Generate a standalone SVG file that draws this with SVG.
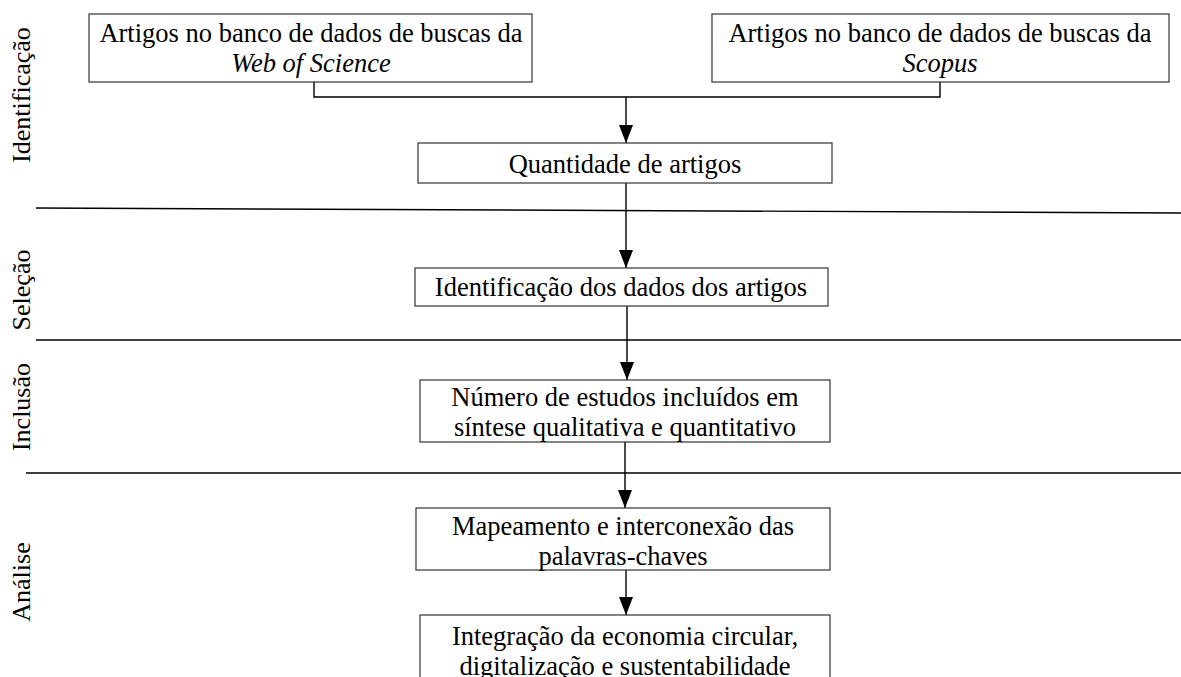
<svg xmlns="http://www.w3.org/2000/svg" width="1181" height="677" viewBox="0 0 1181 677">
<defs>
<style>
text{font-family:"Liberation Serif","Times New Roman",serif;font-size:26.5px;fill:#000;text-anchor:middle}
.box{fill:#fff;stroke:#333;stroke-width:1.2}
.ln{stroke:#000;stroke-width:1.4;fill:none}
.sep{stroke:#000;stroke-width:1.4;fill:none}
.lbl{font-size:26px}
</style>
<marker id="ah" viewBox="0 0 18 16" refX="18" refY="8" markerWidth="18" markerHeight="16" markerUnits="userSpaceOnUse" orient="auto">
<path d="M0,1 L18,8 L0,15 Z" fill="#000"/>
</marker>
</defs>
<rect width="1181" height="677" fill="#fff"/>
<g id="phases">
<line class="sep" x1="36" y1="208" x2="1181" y2="213"/>
<line class="sep" x1="36" y1="340" x2="1181" y2="340"/>
<line class="sep" x1="26" y1="473" x2="1181" y2="473"/>
<text class="lbl" transform="translate(30,95) rotate(-90)">Identificação</text>
<text class="lbl" transform="translate(30,290) rotate(-90)">Seleção</text>
<text class="lbl" transform="translate(30,407) rotate(-90)">Inclusão</text>
<text class="lbl" transform="translate(30,582) rotate(-90)">Análise</text>
</g>
<g id="connectors">
<polyline class="ln" points="314,82 314,97 940,97 940,82"/>
<line class="ln" x1="626" y1="97" x2="626" y2="143" marker-end="url(#ah)"/>
<line class="ln" x1="626" y1="183" x2="626" y2="268" marker-end="url(#ah)"/>
<line class="ln" x1="627" y1="306" x2="627" y2="380" marker-end="url(#ah)"/>
<line class="ln" x1="625" y1="442" x2="625" y2="508" marker-end="url(#ah)"/>
<line class="ln" x1="626" y1="570" x2="626" y2="615" marker-end="url(#ah)"/>
</g>
<g id="n1">
<rect class="box" x="89" y="14" width="443" height="68"/>
<text x="311" y="42">Artigos no banco de dados de buscas da</text>
<text x="311" y="72" font-style="italic">Web of Science</text>
</g>
<g id="n2">
<rect class="box" x="712" y="14" width="457" height="68"/>
<text x="940" y="42">Artigos no banco de dados de buscas da</text>
<text x="940" y="72" font-style="italic">Scopus</text>
</g>
<g id="n3">
<rect class="box" x="418" y="143" width="414" height="40"/>
<text x="625" y="173">Quantidade de artigos</text>
</g>
<g id="n4">
<rect class="box" x="415" y="268" width="413" height="38"/>
<text x="621" y="296">Identificação dos dados dos artigos</text>
</g>
<g id="n5">
<rect class="box" x="420" y="380" width="410" height="62"/>
<text x="625" y="406">Número de estudos incluídos em</text>
<text x="625" y="436">síntese qualitativa e quantitativo</text>
</g>
<g id="n6">
<rect class="box" x="416" y="508" width="414" height="62"/>
<text x="623" y="535">Mapeamento e interconexão das</text>
<text x="623" y="565">palavras-chaves</text>
</g>
<g id="n7">
<rect class="box" x="420" y="615" width="410" height="80"/>
<text x="625" y="645">Integração da economia circular,</text>
<text x="625" y="675">digitalização e sustentabilidade</text>
</g>
</svg>
